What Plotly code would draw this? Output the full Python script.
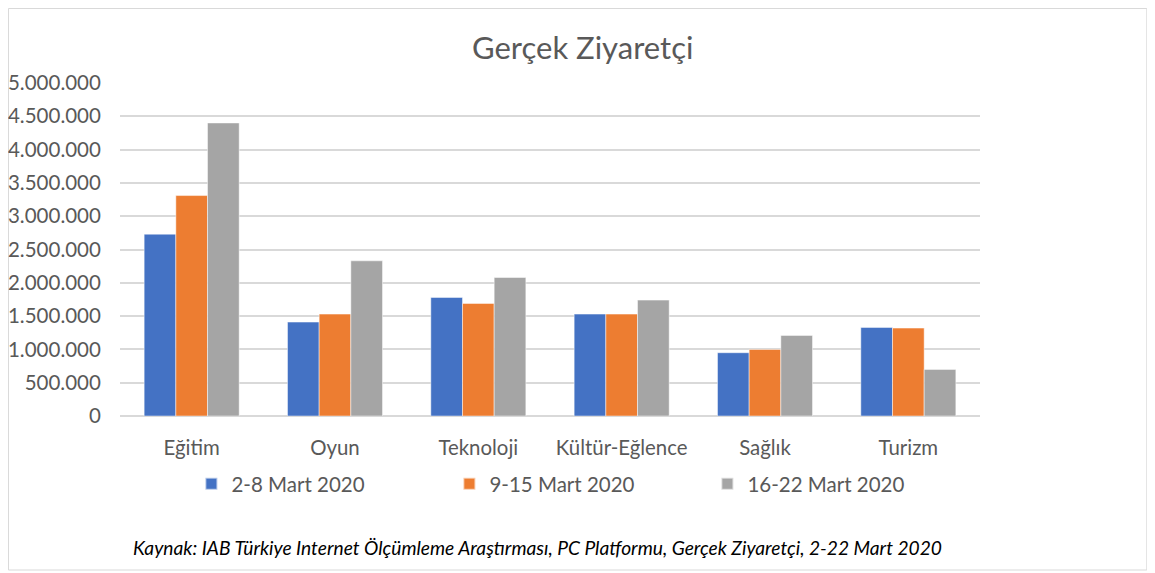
import plotly.graph_objects as go

categories = ["Eğitim", "Oyun", "Teknoloji", "Kültür-Eğlence", "Sağlık", "Turizm"]
series_names = ["2-8 Mart 2020", "9-15 Mart 2020", "16-22 Mart 2020"]
week1 = [2730000, 1410000, 1780000, 1530000, 950000, 1330000]
week2 = [3310000, 1530000, 1690000, 1530000, 1000000, 1320000]
week3 = [4400000, 2330000, 2080000, 1740000, 1210000, 700000]
colors = ["#4472C4", "#ED7D31", "#A5A5A5"]
title_text = "Gerçek Ziyaretçi"
caption_text = "Kaynak: IAB Türkiye Internet Ölçümleme Araştırması, PC Platformu, Gerçek Ziyaretçi, 2-22 Mart 2020"

FONT = "Lato"
GREY = "#595959"

fig = go.Figure()
for name, vals, col in zip(series_names, [week1, week2, week3], colors):
    fig.add_trace(go.Bar(
        x=categories, y=vals, name=name,
        marker=dict(color=col, line=dict(color="rgba(255,255,255,0.6)", width=0.8)),
    ))

fig.update_layout(
    width=1147, height=565,
    margin=dict(l=112, r=175, t=75, b=157, autoexpand=False),
    paper_bgcolor="white", plot_bgcolor="white",
    barmode="group", bargap=0.337, bargroupgap=0,
    separators=",.",
    font=dict(family=FONT, color=GREY, size=18),
    showlegend=True,
    legend=dict(
        orientation="h", x=0.533, xanchor="center", y=-0.204, yanchor="middle",
        entrywidth=213, entrywidthmode="pixels",
        font=dict(family=FONT, size=20.5, color=GREY),
        itemsizing="constant", traceorder="normal",
    ),
    annotations=[
        dict(text=title_text, xref="paper", yref="paper", x=0.538, y=1.108,
             xanchor="center", yanchor="middle", showarrow=False,
             font=dict(family=FONT, size=31, color=GREY)),
        dict(text="<i>" + caption_text + "</i>", xref="paper", yref="paper",
             x=0.485, y=-0.396, xanchor="center", yanchor="middle", showarrow=False,
             font=dict(family=FONT, size=19.2, color="#000000")),
    ],
    shapes=[
        dict(type="rect", xref="paper", yref="paper", x0=-0.1297, x1=1.194,
             y0=-0.4625, y1=1.2237, line=dict(color="#D9D9D9", width=1), layer="below"),
    ],
)

fig.update_xaxes(
    showgrid=False, showline=False, zeroline=False, automargin=False,
    ticks="outside", ticklen=14, tickcolor="rgba(0,0,0,0)",
    tickfont=dict(family=FONT, size=20.4, color=GREY),
)
fig.update_yaxes(
    range=[0, 5000000], dtick=500000, tickformat=",d", automargin=False,
    showgrid=True, gridcolor="#D9D9D9", gridwidth=1.5,
    zeroline=True, zerolinecolor="#D9D9D9", zerolinewidth=1.5,
    showline=False,
    ticks="outside", ticklen=14, tickcolor="rgba(0,0,0,0)",
    tickfont=dict(family=FONT, size=20.5, color=GREY),
)

fig.write_html("out.html")
